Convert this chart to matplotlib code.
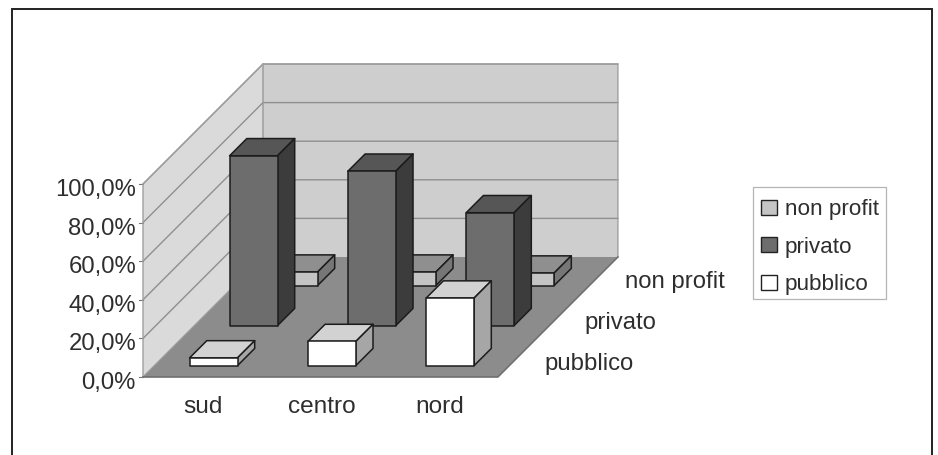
import matplotlib
matplotlib.use("Agg")
import matplotlib.pyplot as plt
from matplotlib.patches import Polygon, Rectangle

categories = ["sud", "centro", "nord"]
series = ["pubblico", "privato", "non profit"]
pubblico = [4.0, 12.5, 35.0]
privato = [88.0, 80.0, 58.5]
non_profit = [7.0, 7.0, 6.5]
values = [pubblico, privato, non_profit]
y_ticks = [0, 20, 40, 60, 80, 100]
y_labels = ["0,0%", "20,0%", "40,0%", "60,0%", "80,0%", "100,0%"]

plt.rcParams["font.family"] = ["Liberation Sans", "DejaVu Sans"]
TXT = "#2e2e2e"
FS_AX = 17.2
FS_CAT = 17.6
FS_LEG = 16.2
EDGE = "#1c1c1c"
styles = [("#ffffff", "#d2d2d2", "#a6a6a6"),
          ("#6d6d6d", "#565656", "#3c3c3c"),
          ("#c4c4c4", "#8f8f8f", "#767676")]

fig = plt.figure(figsize=(9.38, 4.56), dpi=100)
ax = fig.add_axes([0, 0, 1, 1])
ax.set_xlim(0, 938)
ax.set_ylim(456, 0)
ax.axis("off")

X0, Y0 = 143.0, 378.0
CW, SD, VH = 118.3, 40.0, 1.93


def P(x, y, z):
    return (X0 + CW * x + SD * y, Y0 - SD * y - VH * z)


def poly(pts, fc, ec="none", lw=0.0, zo=1.0):
    ax.add_patch(Polygon([P(*p) for p in pts], closed=True, fc=fc, ec=ec, lw=lw, zorder=zo, joinstyle="round"))


ax.add_patch(Rectangle((12, 10), 920, 460, fc="white", ec="#222222", lw=1.4, zorder=0))

nx, ny, top = len(categories), len(series), y_ticks[-1]
poly([(0, 0, 0), (0, ny, 0), (0, ny, top), (0, 0, top)], "#dadada", zo=1)
poly([(0, ny, 0), (nx, ny, 0), (nx, ny, top), (0, ny, top)], "#cecece", zo=1)
poly([(0, 0, 0), (nx, 0, 0), (nx, ny, 0), (0, ny, 0)], "#8c8c8c", zo=1.1)
for t in y_ticks:
    xs, ys = zip(P(0, 0, t), P(0, ny, t), P(nx, ny, t))
    if t > 0:
        ax.plot(xs, ys, color="#8f8f8f", lw=1.0, zorder=1.2)
    ax.plot(*zip(P(0, 0, t), (P(0, 0, t)[0] - 4, P(0, 0, t)[1])), color="#777777", lw=0.8, zorder=1.2)
    ax.text(P(0, 0, t)[0] - 7, P(0, 0, t)[1] + 5, y_labels[t // 20], ha="right", va="center", fontsize=FS_AX, color=TXT)
ax.plot(*zip(P(0, 0, 0), P(0, ny, 0), P(0, ny, top)), color="#999999", lw=1.0, zorder=1.2)
ax.plot(*zip(P(0, 0, 0), P(0, 0, top), P(0, ny, top), P(nx, ny, top), P(nx, ny, 0)), color="#a0a0a0", lw=1.0, zorder=1.2)
ax.plot(*zip(P(0, 0, 0), P(nx, 0, 0), P(nx, ny, 0)), color="#707070", lw=1.2, zorder=1.2)

BW, BD = 0.405, 0.43
order = 2.0
for j in range(ny - 1, -1, -1):
    fc, tc, sc = styles[j]
    for i in range(nx):
        v = values[j][i]
        x0, x1 = i + (1 - BW) / 2, i + (1 + BW) / 2
        y0, y1 = j + (1 - BD) / 2, j + (1 + BD) / 2
        kw = dict(ec=EDGE, lw=1.1, zo=order)
        poly([(x0, y0, v), (x1, y0, v), (x1, y1, v), (x0, y1, v)], tc, **kw)
        poly([(x1, y0, 0), (x1, y1, 0), (x1, y1, v), (x1, y0, v)], sc, **kw)
        poly([(x0, y0, 0), (x1, y0, 0), (x1, y0, v), (x0, y0, v)], fc, **kw)
        order += 0.1

for i, c in enumerate(categories):
    px, py = P(i + 0.5, 0, 0)
    ax.text(px + 1, py + 29, c, ha="center", va="center", fontsize=FS_CAT, color=TXT)
for j, s in enumerate(series):
    px, py = P(nx, j + 0.5, 0)
    ax.text(px + 27, py + 5 + (1 - j), s, ha="left", va="center", fontsize=FS_AX, color=TXT)

ax.add_patch(Rectangle((753, 188), 133, 112, fc="white", ec="#b5b5b5", lw=0.9, zorder=1))
for k, j in enumerate(range(ny - 1, -1, -1)):
    yc = 208 + k * 37.5
    ax.add_patch(Rectangle((761, yc - 7.5), 16, 15, fc=styles[j][0], ec="#222222", lw=1.0, zorder=2))
    ax.text(785, yc + 2, series[j], ha="left", va="center", fontsize=FS_LEG, color=TXT)

fig.savefig("out.png", dpi=100)
